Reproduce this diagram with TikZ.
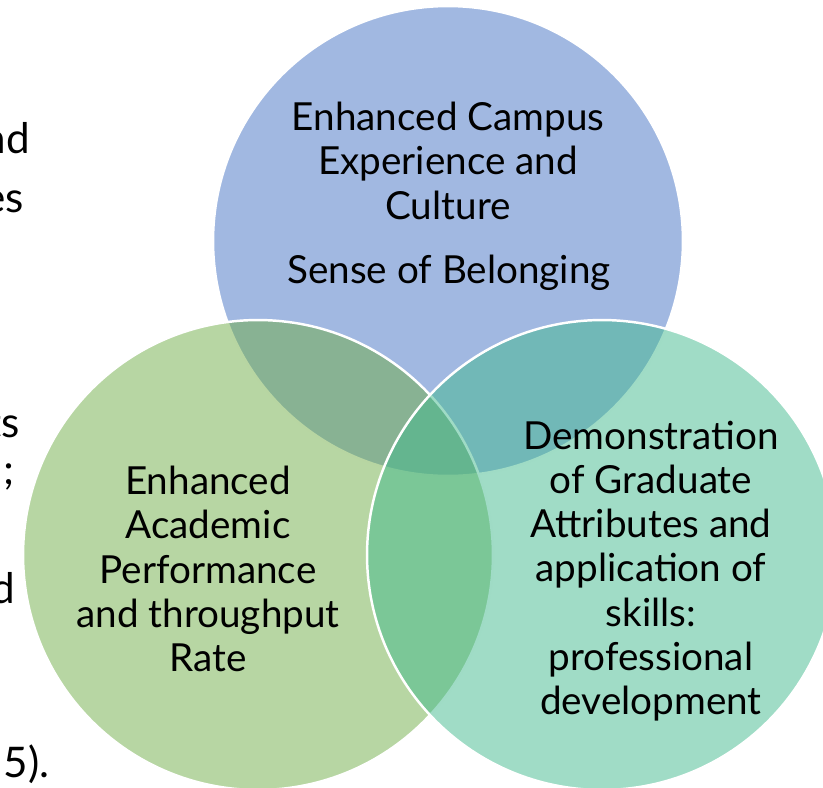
\documentclass[tikz,border=0pt]{standalone}
\usepackage{fontspec}
\setmainfont{Lato}
\usetikzlibrary{positioning}
\definecolor{cblue}{HTML}{4472C4}
\definecolor{cgreen}{HTML}{70AD47}
\definecolor{cteal}{HTML}{41B98D}

\begin{document}
\begin{tikzpicture}[x=0.02cm,y=-0.02cm,inner sep=0pt,
  venn/.style={draw=white,line width=1.4pt,circle,minimum size=9.4cm,fill opacity=.5},
  lbl/.style={align=center,anchor=north,font=\fontsize{22}{25.1}\selectfont},
  frag/.style={anchor=base east,font=\fontsize{24}{28}\selectfont}]%
\useasboundingbox (0,0) rectangle (823,788);
% the three sets
\node [venn,fill=cblue]  (C1) at (448,241) {};
\node [venn,fill=cgreen] (C2) at (258,555) {};
\node [venn,fill=cteal]  (C3) at (602,555) {};
% circle texts
\node [lbl] (T1) at (448,102) {Enhanced Campus\\Experience and\\Culture};
\node [lbl,anchor=base] (T1b) at (449,283) {Sense of Belonging};
\node [lbl] (T2) at (208,466) {Enhanced\\Academic\\Performance\\and throughput\\Rate};
\node [lbl] (T3) at (651,421) {Demonstration\\of Graduate\\Attributes and\\application of\\skills:\\professional\\development};
% cut off slide text on the left
\node [frag] (F1) at (30,153) {nd};
\node [frag] (F2) at (24,212) {es};
\node [frag] (F3) at (20,437) {ts};
\node [frag] (F4) at (15,484) {;};
\node [frag] (F5) at (15,603) {d};
\node [frag] (F6) at (50,777) {5).};
\end{tikzpicture}
\end{document}
